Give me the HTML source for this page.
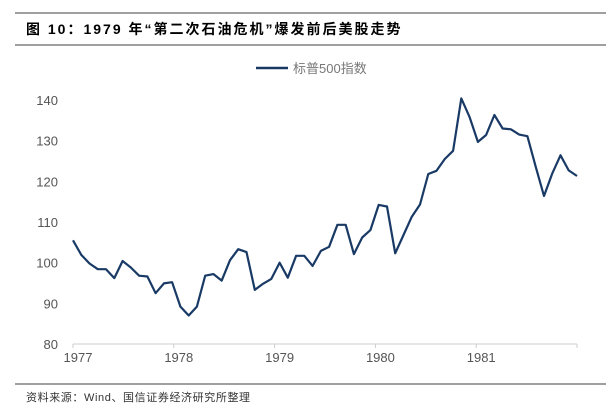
<!DOCTYPE html>
<html><head><meta charset="utf-8">
<style>
body{margin:0;background:#fff;width:606px;height:408px;overflow:hidden;font-family:"Liberation Sans","Noto Sans CJK SC",sans-serif;}
</style></head>
<body>
<svg width="606" height="408" xmlns="http://www.w3.org/2000/svg">
<line x1="15" y1="13" x2="606" y2="13" stroke="#666" stroke-width="1.2"/>
<line x1="15" y1="45" x2="606" y2="45" stroke="#666" stroke-width="1.2"/>
<text x="26" y="34" font-size="14" font-weight="bold" fill="#000" letter-spacing="2">图 10：1979 年“第二次石油危机”爆发前后美股走势</text>
<line x1="256" y1="68" x2="288" y2="68" stroke="#1a3a66" stroke-width="2.5"/>
<text x="293" y="73" font-size="13" fill="#777">标普500指数</text>
<g id="axes"></g>
<path id="series" fill="none" stroke="#1a3a66" stroke-width="2.2" stroke-linejoin="round"/>
<line x1="15" y1="384" x2="606" y2="384" stroke="#666" stroke-width="1.2"/>
<text x="26" y="401" font-size="11" fill="#333" letter-spacing="0.6">资料来源：Wind、国信证券经济研究所整理</text>
</svg>
<script>
const values=[105.5,101.9,99.8,98.4,98.4,96.2,100.4,98.8,96.8,96.6,92.5,94.9,95.2,89.2,87.0,89.2,96.8,97.2,95.6,100.6,103.3,102.6,93.3,94.8,96.0,100.0,96.3,101.7,101.7,99.2,102.9,103.9,109.3,109.3,102.1,106.2,108.0,114.2,113.8,102.3,106.8,111.3,114.3,121.8,122.6,125.5,127.5,140.4,135.8,129.7,131.4,136.3,133.0,132.8,131.5,131.1,123.6,116.4,121.9,126.4,122.7,121.3];
const yTicks=[80,90,100,110,120,130,140];
const xTicks=["1977","1978","1979","1980","1981"];
const NS="http://www.w3.org/2000/svg";
const x0=73,x1=577,yBase=344,yTop=100;
function yScale(v){return yBase-(v-80)/(140-80)*(yBase-yTop);}
function xIdx(i){return x0+i*(x1-x0)/(values.length-1);}
function xYear(k){return x0+k*(x1-x0)/5;}
const axes=document.getElementById('axes');
const base=document.createElementNS(NS,'line');
base.setAttribute('x1',x0);base.setAttribute('x2',x1);base.setAttribute('y1',yBase);base.setAttribute('y2',yBase);
base.setAttribute('stroke','#ccc');base.setAttribute('stroke-width','1');


axes.appendChild(base);
yTicks.forEach(v=>{
 const t=document.createElementNS(NS,'text');
 t.setAttribute('x',58);t.setAttribute('y',yScale(v)+5);t.setAttribute('text-anchor','end');
 t.setAttribute('font-size','13');t.setAttribute('fill','#555');t.textContent=v;
 
 
 axes.appendChild(t);
});
for(let k=0;k<=5;k++){
 const tk=document.createElementNS(NS,'line');
 tk.setAttribute('x1',xYear(k));tk.setAttribute('x2',xYear(k));tk.setAttribute('y1',yBase);tk.setAttribute('y2',yBase+4);
 tk.setAttribute('stroke','#ccc');
 
 
 axes.appendChild(tk);
}
xTicks.forEach((s,k)=>{
 const t=document.createElementNS(NS,'text');
 t.setAttribute('x',xYear(k)+5);t.setAttribute('y',362);t.setAttribute('text-anchor','middle');
 t.setAttribute('font-size','13');t.setAttribute('fill','#555');t.textContent=s;
 
 
 axes.appendChild(t);
});
document.getElementById('series').setAttribute('d',values.map((v,i)=>(i?'L':'M')+xIdx(i).toFixed(1)+' '+yScale(v).toFixed(1)).join(' '));
</script>
</body></html>
